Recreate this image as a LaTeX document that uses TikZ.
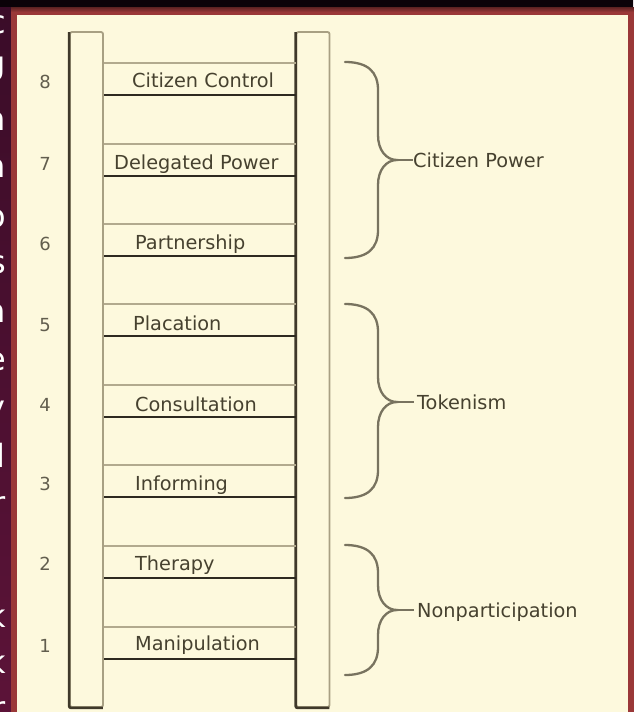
\documentclass[tikz,border=0pt]{standalone}
\usepackage{fontspec}
\setmainfont{DejaVu Sans}
\definecolor{cream}{HTML}{FDF9DD}
\definecolor{frame}{HTML}{9A3838}
\definecolor{railtan}{HTML}{A8A083}
\definecolor{raildark}{HTML}{3F392A}
\definecolor{runglight}{HTML}{B2AA8E}
\definecolor{rungdark}{HTML}{2E2A20}
\definecolor{bracecol}{HTML}{78735F}
\definecolor{txt}{HTML}{46412F}
\definecolor{numcol}{HTML}{625E4E}
\definecolor{bgtop}{HTML}{3A0C28}
\definecolor{bgbot}{HTML}{5C1338}
\tikzset{
  rail/.style={rectangle, fill=cream, draw=railtan, line width=1.8pt, rounded corners=2pt,
    minimum width=33pt, minimum height=675pt, inner sep=0pt},
  railedge/.style={draw=raildark, line width=2.6pt, rounded corners=2pt},
  rungtop/.style={draw=runglight, line width=1.8pt},
  rungbot/.style={draw=rungdark, line width=2.6pt},
  rungtext/.style={text=txt, font=\fontsize{19.3}{21}\selectfont, inner sep=0pt, anchor=base west},
  numtext/.style={text=numcol, font=\fontsize{18}{20}\selectfont, inner sep=0pt, anchor=base},
  bracestyle/.style={draw=bracecol, line width=2.3pt, line cap=round},
  grouptext/.style={text=txt, font=\fontsize{19.3}{21}\selectfont, inner sep=0pt, anchor=base west},
  cutletter/.style={text=white, font=\fontsize{32}{34}\selectfont, inner sep=0pt, anchor=base east}
}
\newcommand\ladderbrace[4]{% top, mid, bottom, name
  \draw[bracestyle] (345,#1) .. controls (368,#1) and (378,#1+10) .. (378,#1+28)
    -- (378,#2-25) .. controls (378,#2-10) and (386,#2) .. (397,#2)
    .. controls (386,#2) and (378,#2+10) .. (378,#2+25)
    -- (378,#3-28) .. controls (378,#3-10) and (368,#3) .. (345,#3);
  \coordinate (#4tip) at (397,#2);
}
\begin{document}
\begin{tikzpicture}[x=1pt,y=-1pt]
\useasboundingbox (0,0) rectangle (633,712);
% background
\shade[top color=bgtop, bottom color=bgbot] (0,0) rectangle (633,712);
\fill[black!80!bgtop] (0,0) rectangle (633,7);
% panel
\fill[frame] (11,7) rectangle (634,713);
\shade[top color=frame!60!black, bottom color=frame] (11,7) rectangle (634,12);
\fill[cream] (17,15) rectangle (628,713);
% cut-off white letters at left edge
\begin{scope}
\clip (0,0) rectangle (10,712);
\foreach \ch/\yy in {c/33, g/74, n/130, n/177, o/227, s/273, n/322, e/370, y/418, l/467, r/514, k/627, k/673, r/719}
  \node[cutletter] at (6,\yy) {\ch};
\end{scope}
% rails
\node[rail] (L) at (86.5,369.5) {};
\node[rail] (R) at (313,369.5) {};
\draw[railedge] ([yshift=-1pt]L.north west) -- (L.south west) -- ([xshift=-1pt]L.south east);
\draw[railedge] ([yshift=-1pt]R.north west) -- (R.south west) -- ([xshift=-1pt]R.south east);
% rungs
\foreach \n/\yt/\yb in {8/63/95, 7/144/176, 6/224/256, 5/304/336, 4/385/417, 3/465/497, 2/546/578, 1/627/659} {
  \coordinate (t\n) at (0,\yt);
  \coordinate (b\n) at (0,\yb);
  \draw[rungtop] (L.east |- t\n) -- (R.west |- t\n);
  \draw[rungbot] (L.east |- b\n) -- (R.west |- b\n);
}
% rung labels
\node[rungtext] (r8) at (132,87) {Citizen Control};
\node[rungtext] (r7) at (114,169) {Delegated Power};
\node[rungtext] (r6) at (135,249) {Partnership};
\node[rungtext] (r5) at (133,330) {Placation};
\node[rungtext] (r4) at (135,411) {Consultation};
\node[rungtext] (r3) at (135,490) {Informing};
\node[rungtext] (r2) at (135,570) {Therapy};
\node[rungtext] (r1) at (135,650) {Manipulation};
% numbers
\foreach \n/\yy in {8/88, 7/170, 6/250, 5/331, 4/411, 3/490, 2/570, 1/652}
  \node[numtext] (n\n) at (45,\yy) {\n};
% braces
\ladderbrace{62}{160}{258}{cp}
\ladderbrace{304}{402}{498}{tk}
\ladderbrace{545}{610}{675}{np}
\node[grouptext] (gcp) at (413,167) {Citizen Power};
\node[grouptext] (gtk) at (417,409) {Tokenism};
\node[grouptext] (gnp) at (417,617) {Nonparticipation};
\draw[bracestyle, line cap=butt] (cptip) -- (gcp.west |- cptip);
\draw[bracestyle, line cap=butt] (tktip) -- ([xshift=-3pt]gtk.west |- tktip);
\draw[bracestyle, line cap=butt] (nptip) -- ([xshift=-3pt]gnp.west |- nptip);
\end{tikzpicture}
\end{document}
